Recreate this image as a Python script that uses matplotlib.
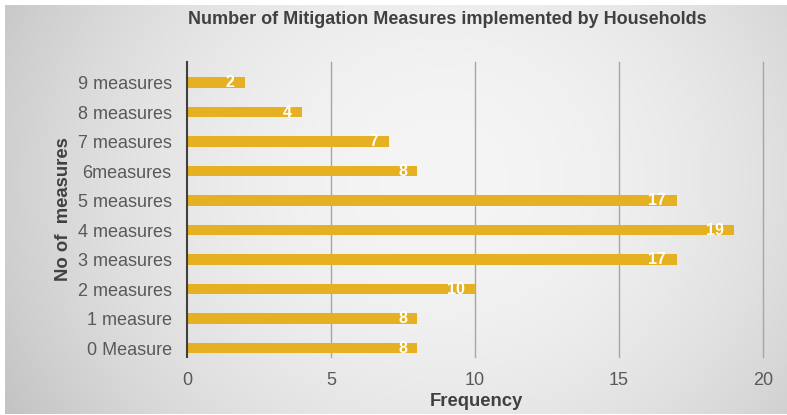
import numpy as np
import matplotlib
matplotlib.use("Agg")
import matplotlib.pyplot as plt

plt.rcParams['font.family'] = ['Liberation Sans', 'DejaVu Sans']

categories = ["0 Measure", "1 measure", "2 measures", "3 measures", "4 measures",
              "5 measures", "6measures", "7 measures", "8 measures", "9 measures"]
values = [8, 8, 10, 17, 19, 17, 8, 7, 4, 2]
xticks = [0, 5, 10, 15, 20]

W, H = 787, 415
fig = plt.figure(figsize=(W / 100, H / 100), dpi=100)

# background frame with radial gradient
bg = fig.add_axes([5 / W, 1 / H, 1 - 5 / W, 1 - 6 / H], zorder=-10)
ny, nx = 200, 400
yy, xx = np.mgrid[0:ny, 0:nx]
cx, cy = nx * 0.56, ny * 0.42
r2 = ((xx - cx) / (nx * 0.55)) ** 2 + ((yy - cy) / (ny * 0.95)) ** 2
val = np.clip(0.96 - 0.14 * r2, 0.76, 1)
img = np.dstack([val, val, val])
bg.imshow(img, aspect='auto', extent=[0, 1, 0, 1], origin='upper', interpolation='bilinear')
bg.set_axis_off()

ax = fig.add_axes([187 / W, 1 - 357 / H, (763 - 187) / W, (357 - 62) / H])
ax.patch.set_alpha(0)
y = np.arange(len(categories))
ax.barh(y, values, height=0.36, color='#E5B123', zorder=3)
ax.set_xlim(0, 20)
ax.set_ylim(-0.3, 9.7)
ax.set_yticks(y)
ax.set_yticklabels(categories, fontsize=13, color='#595959')
ax.set_xticks(xticks)
ax.set_xticklabels([str(t) for t in xticks], fontsize=13, color='#595959')
ax.tick_params(axis='both', length=0)
ax.tick_params(axis='y', pad=11)
ax.tick_params(axis='x', pad=11)
for s in ['top', 'right', 'bottom']:
    ax.spines[s].set_visible(False)
ax.spines['left'].set_color('#404040')
ax.spines['left'].set_linewidth(1.5)
ax.spines['left'].set_zorder(4)
for t in xticks[1:]:
    ax.axvline(t, color='#a6a6a6', lw=1.0, zorder=1, clip_on=False)

for yi, v in zip(y, values):
    ax.annotate(str(v), xy=(v, yi), xytext=(-7.5, 0), textcoords='offset points',
                ha='right', va='center', color='white', fontsize=11.5,
                fontweight='bold', zorder=5)

fig.text(447 / W, 1 - 20 / H, "Number of Mitigation Measures implemented by Households",
         ha='center', va='center', fontsize=13, fontweight='bold', color='#404040')
fig.text(476 / W, 1 - 401 / H, "Frequency", ha='center', va='center',
         fontsize=13.3, fontweight='bold', color='#404040')
fig.text(63 / W, 1 - 209 / H, "No of  measures", ha='center', va='center',
         rotation=90, fontsize=13.3, fontweight='bold', color='#404040')

fig.savefig("out.png", dpi=100)
